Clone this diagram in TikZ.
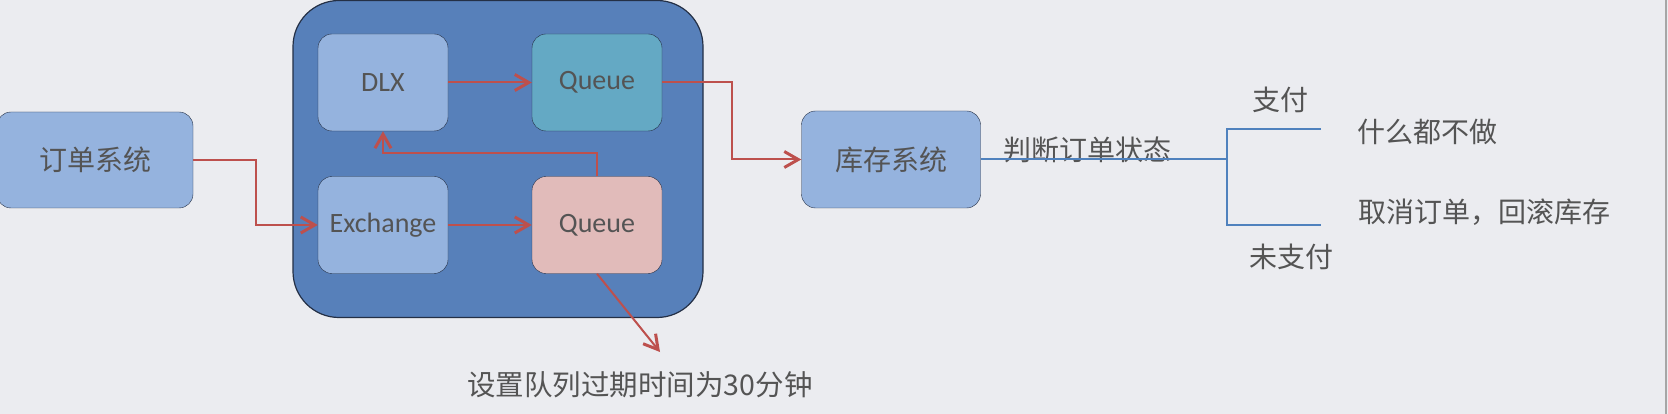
\documentclass[tikz,border=0pt]{standalone}
\usepackage{fontspec}
\setmainfont{Carlito}
\newfontfamily\cjk{Noto Sans CJK SC}
\usetikzlibrary{arrows.meta, positioning}
\definecolor{pagebg}{RGB}{235, 236, 240}
\definecolor{brokerblue}{RGB}{87, 128, 186}
\definecolor{boxblue}{RGB}{149, 179, 222}
\definecolor{queueteal}{RGB}{100, 169, 196}
\definecolor{queuepink}{RGB}{225, 187, 186}
\definecolor{edgedark}{RGB}{36, 48, 70}
\definecolor{flowred}{RGB}{189, 80, 77}
\definecolor{linkblue}{RGB}{79, 129, 189}
\definecolor{textgray}{RGB}{84, 84, 84}
\tikzset{
    sysbox/.style={draw=edgedark, fill=boxblue, rounded corners=14pt, minimum width=196pt, minimum height=96pt, inner sep=0pt, text=textgray, font=\cjk\fontsize{28}{32}\selectfont},
    innerbox/.style={draw=edgedark, rounded corners=14pt, minimum width=130pt, minimum height=97pt, inner sep=0pt, text=textgray, font=\fontsize{28}{32}\selectfont},
    brokerbox/.style={draw=edgedark, fill=brokerblue, rounded corners=46pt, minimum width=410pt, minimum height=317pt, line width=1.2pt},
    flowarrow/.style={-{Straight Barb[length=14pt, width=16pt, line width=3pt]}, line width=2pt, draw=flowred},
    branchline/.style={line width=2pt, draw=linkblue},
    lbltext/.style={inner sep=0pt, text=textgray, font=\cjk\fontsize{28}{32}\selectfont},
}

\begin{document}
\begin{tikzpicture}[x=1pt, y=-1pt]
    \useasboundingbox (0,0) rectangle (1668,414);
    \fill[pagebg] (0,0) rectangle (1668,414);
    \draw[gray!70, line width=1.5pt] (1666,0) -- (1666,414);

    % broker with its exchanges and queues
    \node[brokerbox] (broker) at (498,159) {};
    \node[innerbox, fill=boxblue] (dlx) at (383,82.5) {DLX};
    \node[innerbox, fill=queueteal] (qdlx) at (597,82.5) {Queue};
    \node[innerbox, fill=boxblue] (exch) at (383,225) {Exchange};
    \node[innerbox, fill=queuepink] (qttl) at (597,225) {Queue};

    % systems
    \node[sysbox] (order) at (95,160) {订单系统};
    \node[sysbox, minimum width=179pt, minimum height=97pt] (stock) at (891,159.5) {库存系统};

    % labels
    \node[lbltext] (decide) at (1087,150) {判断订单状态};
    \node[lbltext] (paid) at (1280,100) {支付};
    \node[lbltext] (unpaid) at (1291,257) {未支付};
    \node[lbltext] (nothing) at (1427,132) {什么都不做};
    \node[lbltext] (rollback) at (1484,212) {取消订单，回滚库存};
    \node[lbltext, font=\cjk\fontsize{28.5}{32}\selectfont] (ttlnote) at (640,385) {设置队列过期时间为30分钟};

    \coordinate (ttlend) at (660,352);
    \coordinate (fork) at (1227,159.5);
    \coordinate (paidend) at (1321,129);
    \coordinate (unpaidend) at (1321,225);

    % message flow
    \draw[flowarrow] (order.east) -- ++(63,0) |- (exch.west);
    \draw[flowarrow] (exch) -- (qttl);
    \draw[flowarrow] (qttl.north) -- ++(0,-23) -| (dlx.south);
    \draw[flowarrow] (dlx) -- (qdlx);
    \draw[flowarrow] (qdlx.east) -- ++(70,0) |- (stock.west);
    \draw[flowarrow] (qttl.south) -- (ttlend);

    % order state check
    \draw[branchline] (stock.east) -- (fork);
    \draw[branchline] (paidend) -- (paidend -| fork) -- (unpaidend -| fork) -- (unpaidend);
\end{tikzpicture}
\end{document}
